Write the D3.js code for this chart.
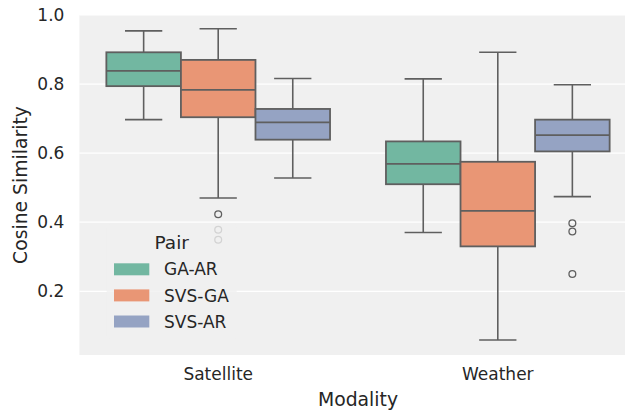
<!DOCTYPE html>
<html>
<head>
<meta charset="utf-8">
<script src="https://cdn.jsdelivr.net/npm/d3@7"></script>
<style>
  html, body { margin: 0; padding: 0; background: #fff; }
  svg { display: block; font-family: "DejaVu Sans", sans-serif; }
</style>
</head>
<body>
<svg id="chart" width="625" height="412"></svg>
<script>
// ---- Data ----
const modalities = ["Satellite", "Weather"];
const pairs = ["GA-AR", "SVS-GA", "SVS-AR"];
const pairColors = ["#72b7a1", "#e99675", "#95a3c3"];
const yTicks = [0.2, 0.4, 0.6, 0.8, 1.0];

// box stats per modality: [whisker low, q1, median, q3, whisker high]
const satGAAR  = [0.697, 0.794, 0.838, 0.892, 0.954];
const satSVSGA = [0.470, 0.704, 0.783, 0.870, 0.960];
const satSVSAR = [0.528, 0.639, 0.689, 0.728, 0.816];
const wxGAAR   = [0.370, 0.510, 0.569, 0.634, 0.815];
const wxSVSGA  = [0.059, 0.330, 0.433, 0.575, 0.892];
const wxSVSAR  = [0.474, 0.605, 0.652, 0.697, 0.798];

const satOutGAAR = [];
const satOutSVSGA = [0.423, 0.378, 0.349];
const satOutSVSAR = [];
const wxOutGAAR = [];
const wxOutSVSGA = [];
const wxOutSVSAR = [0.397, 0.373, 0.250];

const boxes = [
  { modality: "Satellite", pair: "GA-AR",  s: satGAAR,  out: satOutGAAR },
  { modality: "Satellite", pair: "SVS-GA", s: satSVSGA, out: satOutSVSGA },
  { modality: "Satellite", pair: "SVS-AR", s: satSVSAR, out: satOutSVSAR },
  { modality: "Weather",   pair: "GA-AR",  s: wxGAAR,   out: wxOutGAAR },
  { modality: "Weather",   pair: "SVS-GA", s: wxSVSGA,  out: wxOutSVSGA },
  { modality: "Weather",   pair: "SVS-AR", s: wxSVSAR,  out: wxOutSVSAR }
];

// ---- Layout ----
const svg = d3.select("#chart");
const plot = { left: 78.4, right: 637.6, top: 15, bottom: 355 };
const bg = "#f0f0f0";
const lineColor = "#5f5f5f";

const x = d3.scaleBand().domain(modalities).range([plot.left, plot.right]).padding(0);
const y = d3.scaleLinear().domain([0.0155, 1.0]).range([plot.bottom, plot.top]);
const color = d3.scaleOrdinal().domain(pairs).range(pairColors);
const boxW = x.bandwidth() * 0.8 / pairs.length;
const hue = d3.scaleBand().domain(pairs)
  .range([-boxW * 1.5, boxW * 1.5]).padding(0);

// background
svg.append("rect")
  .attr("x", plot.left + 1).attr("y", plot.top)
  .attr("width", plot.right - plot.left - 1).attr("height", plot.bottom - plot.top)
  .attr("fill", bg);

// grid
svg.append("g").selectAll("line").data(yTicks).join("line")
  .attr("x1", plot.left + 1).attr("x2", plot.right)
  .attr("y1", d => y(d)).attr("y2", d => y(d))
  .attr("stroke", "#ffffff").attr("stroke-width", 1.2);

// y axis (labels only)
const yAxis = d3.axisLeft(y).tickValues(yTicks).tickFormat(d3.format(".1f")).tickSize(0).tickPadding(14);
const gy = svg.append("g").attr("transform", `translate(${plot.left},0)`).call(yAxis);
gy.select(".domain").remove();
gy.selectAll("text").attr("font-size", 17).attr("fill", "#262626")
  .attr("font-family", "DejaVu Sans");

// x axis (labels only)
const xAxis = d3.axisBottom(x).tickSize(0).tickPadding(13);
const gx = svg.append("g").attr("transform", `translate(0,${plot.bottom})`).call(xAxis);
gx.select(".domain").remove();
gx.selectAll("text").attr("font-size", 17).attr("fill", "#262626")
  .attr("font-family", "DejaVu Sans");

// axis titles
svg.append("text")
  .attr("x", (plot.left + plot.right) / 2).attr("y", 405.5)
  .attr("text-anchor", "middle").attr("font-size", 18.8).attr("fill", "#262626")
  .text("Modality");
svg.append("text")
  .attr("transform", `translate(26.5,${(plot.top + plot.bottom) / 2}) rotate(-90)`)
  .attr("text-anchor", "middle").attr("font-size", 18.8).attr("fill", "#262626")
  .text("Cosine Similarity");

// boxes
const gBoxes = svg.append("g");
boxes.forEach(b => {
  const cx = x(b.modality) + x.bandwidth() / 2 + hue(b.pair) + hue.bandwidth() / 2;
  const [lo, q1, med, q3, hi] = b.s;
  const g = gBoxes.append("g");
  // whiskers
  g.append("line").attr("x1", cx).attr("x2", cx).attr("y1", y(q3)).attr("y2", y(hi))
    .attr("stroke", lineColor).attr("stroke-width", 1.6);
  g.append("line").attr("x1", cx).attr("x2", cx).attr("y1", y(q1)).attr("y2", y(lo))
    .attr("stroke", lineColor).attr("stroke-width", 1.6);
  // caps
  [lo, hi].forEach(v => {
    g.append("line").attr("x1", cx - boxW / 4).attr("x2", cx + boxW / 4)
      .attr("y1", y(v)).attr("y2", y(v))
      .attr("stroke", lineColor).attr("stroke-width", 1.6);
  });
  // box
  g.append("rect")
    .attr("x", cx - boxW / 2).attr("width", boxW)
    .attr("y", y(q3)).attr("height", y(q1) - y(q3))
    .attr("fill", color(b.pair)).attr("stroke", lineColor).attr("stroke-width", 1.8);
  // median
  g.append("line").attr("x1", cx - boxW / 2).attr("x2", cx + boxW / 2)
    .attr("y1", y(med)).attr("y2", y(med))
    .attr("stroke", lineColor).attr("stroke-width", 1.8);
  // outliers
  g.selectAll("circle").data(b.out).join("circle")
    .attr("cx", cx).attr("cy", d => y(d)).attr("r", 3.4)
    .attr("fill", "none").attr("stroke", lineColor).attr("stroke-width", 1.3);
});

// legend
const leg = svg.append("g");
const legBox = { x: 106.7, y: 224.5, w: 130, h: 114 };
leg.append("rect")
  .attr("x", legBox.x).attr("y", legBox.y).attr("width", legBox.w).attr("height", legBox.h)
  .attr("rx", 3).attr("fill", bg).attr("fill-opacity", 0.8);
leg.append("text")
  .attr("x", legBox.x + legBox.w / 2).attr("y", 249.3)
  .attr("text-anchor", "middle").attr("font-size", 18.5).attr("fill", "#262626")
  .text("Pair");
const legY = d3.scalePoint().domain(pairs).range([269.3, 321.5]);
pairs.forEach(p => {
  leg.append("rect")
    .attr("x", 114).attr("y", legY(p) - 6).attr("width", 35.3).attr("height", 12)
    .attr("fill", color(p));
  leg.append("text")
    .attr("x", 164).attr("y", legY(p)).attr("dy", "0.36em")
    .attr("font-size", 17).attr("fill", "#262626")
    .text(p);
});
</script>
</body>
</html>
